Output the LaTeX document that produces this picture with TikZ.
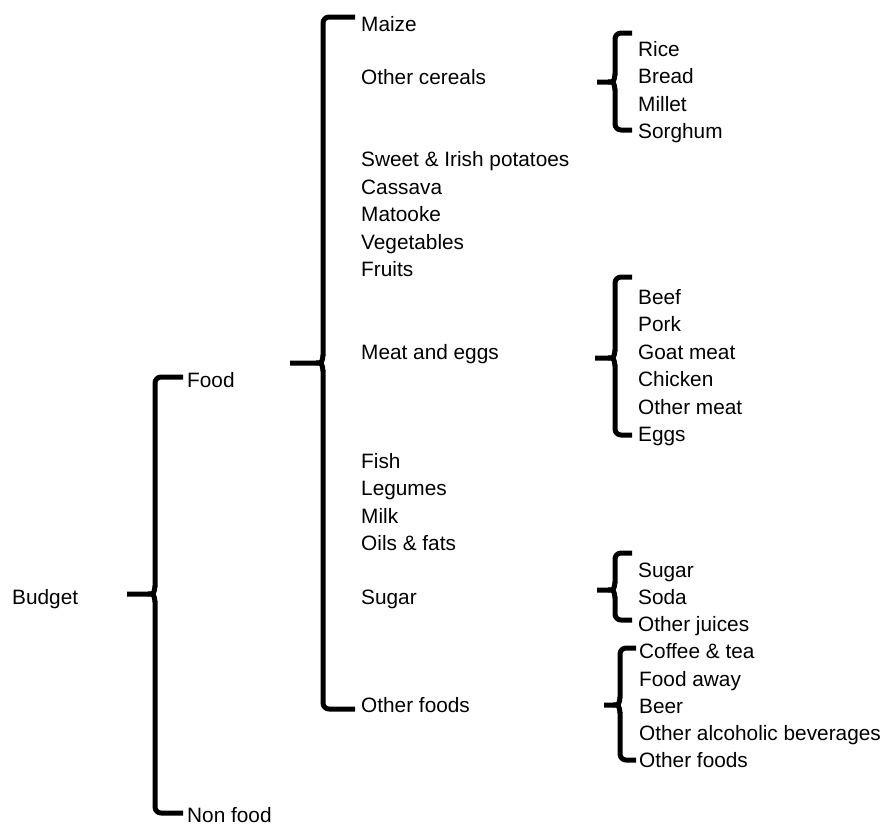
\documentclass[tikz,border=0pt]{standalone}
\usepackage{fontspec}
\setmainfont{Liberation Sans}
\begin{document}
\begin{tikzpicture}[x=1pt,y=-1pt,
  lbl/.style={anchor=base west,inner sep=0pt,font=\fontsize{20.8}{24}\selectfont},
  bracepen/.style={line width=5pt,line cap=butt,line join=round}]
\useasboundingbox (0,0) rectangle (887,825);
% brace macro: xs xv xh yt ym yb
\newcommand\mybrace[6]{%
  \draw[bracepen,rounded corners=6pt] (#3,#4) -- (#2,#4) -- (#2,#5-7) ;
  \draw[bracepen,rounded corners=6pt] (#3,#6) -- (#2,#6) -- (#2,#5+7) ;
  \draw[bracepen] (#1,#5) -- (#2-7,#5) .. controls (#2-1,#5) .. (#2,#5-8);
  \draw[bracepen] (#2-7,#5) .. controls (#2-1,#5) .. (#2,#5+8);
}
% level 0/1
\node[lbl] (budget) at (12,604) {Budget};
\node[lbl] (food) at (187,387) {Food};
\node[lbl] (nonfood) at (187,822) {Non food};
% level 2
\node[lbl] (maize) at (361,31) {Maize};
\node[lbl] (cereals) at (361,84) {Other cereals};
\node[lbl] (potatoes) at (361,166) {Sweet \& Irish potatoes};
\node[lbl] (cassava) at (361,194) {Cassava};
\node[lbl] (matooke) at (361,221) {Matooke};
\node[lbl] (veg) at (361,249) {Vegetables};
\node[lbl] (fruits) at (361,276) {Fruits};
\node[lbl] (meat) at (361,359) {Meat and eggs};
\node[lbl] (fish) at (361,468) {Fish};
\node[lbl] (legumes) at (361,495) {Legumes};
\node[lbl] (milk) at (361,523) {Milk};
\node[lbl] (oils) at (361,550) {Oils \& fats};
\node[lbl] (sugar) at (361,604) {Sugar};
\node[lbl] (otherfoods) at (361,712) {Other foods};
% level 3
\node[lbl] (rice) at (638,56) {Rice};
\node[lbl] (bread) at (638,83) {Bread};
\node[lbl] (millet) at (638,111) {Millet};
\node[lbl] (sorghum) at (638,138) {Sorghum};
\node[lbl] (beef) at (638,304) {Beef};
\node[lbl] (pork) at (638,331) {Pork};
\node[lbl] (goat) at (638,359) {Goat meat};
\node[lbl] (chicken) at (638,386) {Chicken};
\node[lbl] (othermeat) at (638,414) {Other meat};
\node[lbl] (eggs) at (638,441) {Eggs};
\node[lbl] (sugar2) at (638,577) {Sugar};
\node[lbl] (soda) at (638,604) {Soda};
\node[lbl] (juices) at (638,631) {Other juices};
\node[lbl] (coffee) at (639,658) {Coffee \& tea};
\node[lbl] (away) at (639,686) {Food away};
\node[lbl] (beer) at (639,713) {Beer};
\node[lbl] (alc) at (639,740) {Other alcoholic beverages};
\node[lbl] (otherfoods2) at (639,767) {Other foods};
% braces
\mybrace{127}{155}{183}{377}{594}{813}
\mybrace{290}{323}{355}{17}{363}{709}
\mybrace{597}{615}{632}{33}{82}{130}
\mybrace{595}{615}{632}{277}{358}{435}
\mybrace{597}{615}{632}{553}{590}{620}
\mybrace{604}{620}{636}{648}{705}{760}
\end{tikzpicture}
\end{document}
